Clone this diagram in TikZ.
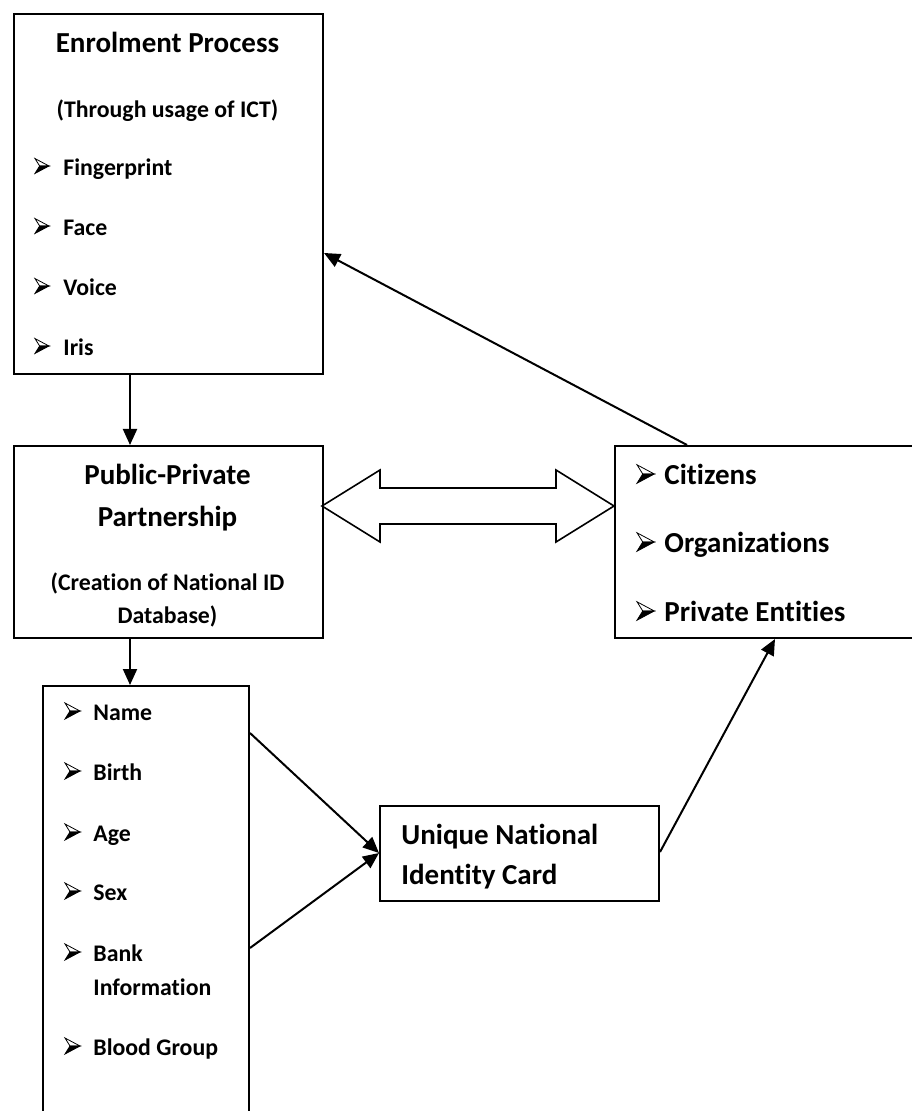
\documentclass[tikz,border=0pt]{standalone}
\usepackage{fontspec}
\setmainfont{Carlito}[Ligatures=NoCommon]
\usetikzlibrary{arrows.meta, calc}
\tikzset{
  box/.style={draw, line width=1pt, anchor=north west, inner sep=0pt},
  bigtext/.style={font=\fontsize{14.5}{17}\selectfont\bfseries, inner sep=0pt},
  smalltext/.style={font=\fontsize{11.9}{14}\selectfont\bfseries, inner sep=0pt},
  link/.style={line width=1pt, -{Triangle[length=8pt, width=7pt]}},
  pics/bullet/.style={code={
    \draw[line width=0.4pt, line join=miter, fill=white] (0,-8) -- (15,0) -- (5,0) -- cycle;
    \draw[line width=0.4pt, line join=miter, fill=black] (5,0) -- (15,0) -- (0,8) -- cycle;
  }},
}

\begin{document}
\begin{tikzpicture}[x=0.5pt, y=-0.5pt]
\useasboundingbox (0,0) rectangle (911,1111);

% boxes
\node[box, minimum width=154.5pt, minimum height=180pt] (enrol) at (13,13) {};
\node[box, minimum width=154.5pt, minimum height=96pt] (ppp) at (13,445) {};
\node[box, minimum width=150pt, minimum height=96pt] (users) at (614,445) {};
\node[box, minimum width=103pt, minimum height=222pt] (data) at (42,685) {};
\node[box, minimum width=139.5pt, minimum height=47.5pt] (card) at (379,805) {};

% enrolment
\node[bigtext, anchor=base] (enroltitle) at (167.5,53) {Enrolment Process};
\node[smalltext, anchor=base] (enrolsub) at (167.5,118) {(Through usage of ICT)};
\foreach \t [count=\i] in {Fingerprint, Face, Voice, Iris} {
  \pic[scale=0.93] at (35,106+60*\i) {bullet};
  \node[smalltext, anchor=base west] (e\i) at (63,116+60*\i) {\t};
}

% partnership
\node[bigtext, anchor=base] (ppp1) at (167.5,484) {Public-Private};
\node[bigtext, anchor=base] (ppp2) at (167.5,526) {Partnership};
\node[smalltext, anchor=base] (ppp3) at (167.5,590) {(Creation of National ID};
\node[smalltext, anchor=base] (ppp4) at (167.5,623) {Database)};

% users
\foreach \t/\y [count=\i] in {Citizens/484, Organizations/552, Private Entities/621} {
  \pic[scale=1.15] at (637,\y-10) {bullet};
  \node[bigtext, anchor=base west] (u\i) at (664,\y) {\t};
}

% data
\foreach \t/\y [count=\i] in {Name/720, Birth/780, Age/841, Sex/900, Bank/961, Blood Group/1055} {
  \pic at (65,\y-9) {bullet};
  \node[smalltext, anchor=base west] (d\i) at (93,\y) {\t};
}
\node[smalltext, anchor=base west] (d7) at (93,995) {Information};

% card
\node[bigtext, anchor=base west] (card1) at (401,844) {Unique National};
\node[bigtext, anchor=base west] (card2) at (401,884) {Identity Card};

% double arrow
\draw[line width=0.8pt] (322,506) -- (380,470) -- (380,488) -- (556,488) -- (556,470)
  -- (614,506) -- (556,542) -- (556,524) -- (380,524) -- (380,542) -- cycle;

% links
\draw[link] ($(enrol.south west)+(117,0)$) -- ($(ppp.north west)+(117,0)$);
\draw[link] ($(ppp.south west)+(117,0)$) -- ($(data.north west)+(88,0)$);
\draw[link] ($(users.north west)+(73,0)$) -- ($(enrol.north east)+(0,240)$);
\draw[link] ($(data.north east)+(0,48)$) -- ($(card.north west)+(0,48)$);
\draw[link] ($(data.north east)+(0,263)$) -- ($(card.north west)+(0,48)$);
\draw[link] ($(card.north east)+(0,47)$) -- ($(users.south west)+(161,0)$);

\end{tikzpicture}
\end{document}
